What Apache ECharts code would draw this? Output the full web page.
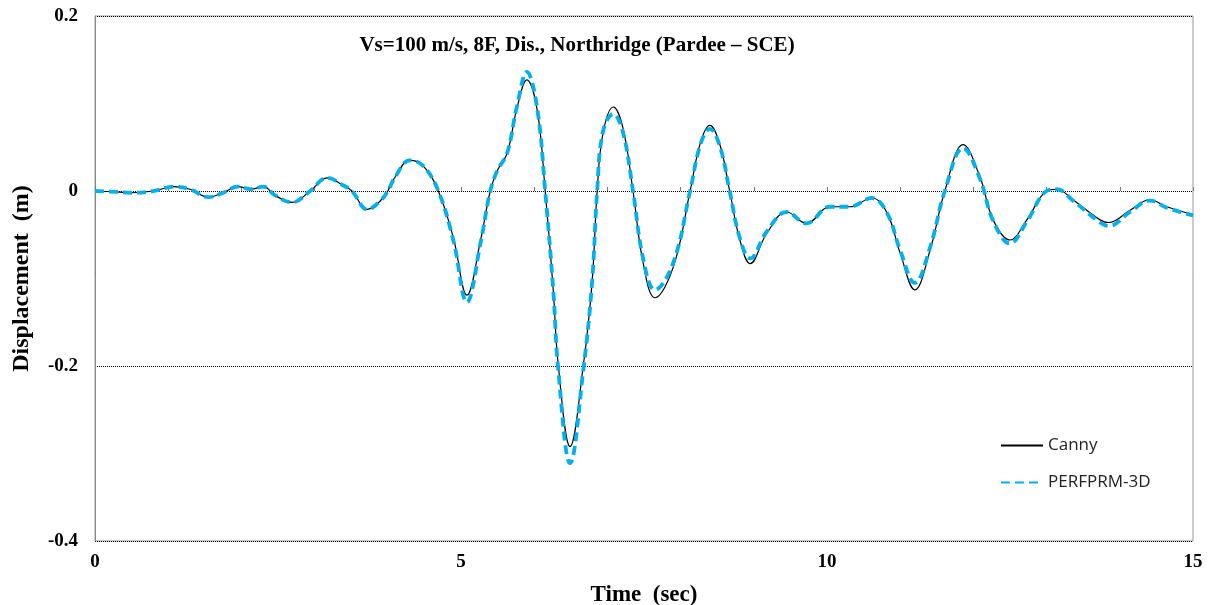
<!DOCTYPE html>
<html>
<head>
<meta charset="utf-8">
<script src="https://cdn.jsdelivr.net/npm/echarts@6/dist/echarts.min.js"></script>
<style>html,body{margin:0;padding:0;background:#fff;overflow:hidden}#c{width:1211px;height:605px}</style>
</head>
<body>
<div id="c"></div>
<script>
const titleText = 'Vs=100 m/s, 8F, Dis., Northridge (Pardee \u2013 SCE)';
const seriesNames = ['Canny', 'PERFPRM-3D'];
const time = [0, 0.3, 0.5, 0.8, 1.08, 1.3, 1.55, 1.75, 1.95, 2.13, 2.3, 2.46, 2.69, 2.94, 3.17, 3.4, 3.51, 3.72, 3.89, 4.0, 4.1, 4.3, 4.48, 4.69, 4.9, 5.08, 5.27, 5.4, 5.5, 5.63, 5.76, 5.9, 6.04, 6.15, 6.26, 6.33, 6.49, 6.67, 6.79, 6.86, 6.94, 7.08, 7.21, 7.35, 7.49, 7.65, 7.9, 8.13, 8.27, 8.4, 8.54, 8.67, 8.81, 8.95, 9.18, 9.45, 9.72, 10.04, 10.31, 10.61, 10.82, 11.0, 11.2, 11.41, 11.61, 11.86, 12.09, 12.27, 12.5, 12.73, 13.0, 13.14, 13.36, 13.73, 13.85, 14.14, 14.41, 14.64, 15.0];
const canny = [0, -0.001, -0.002, 0.0, 0.005, 0.002, -0.007, -0.002, 0.005, 0.002, 0.005, -0.005, -0.013, 0, 0.015, 0.006, 0, -0.021, -0.012, 0, 0.016, 0.035, 0.029, 0, -0.055, -0.119, -0.055, 0, 0.024, 0.043, 0.093, 0.127, 0.093, 0, -0.113, -0.2, -0.292, -0.2, -0.105, 0, 0.066, 0.096, 0.073, 0, -0.083, -0.122, -0.087, 0, 0.055, 0.075, 0.052, 0, -0.056, -0.083, -0.048, -0.024, -0.037, -0.018, -0.018, -0.008, -0.025, -0.071, -0.113, -0.067, 0, 0.053, 0.016, -0.033, -0.056, -0.033, 0, 0.002, -0.01, -0.033, -0.036, -0.022, -0.01, -0.018, -0.027];
const perform = [0, -0.001, -0.002, 0.0, 0.005, 0.002, -0.007, -0.002, 0.005, 0.002, 0.005, -0.005, -0.013, 0, 0.015, 0.006, 0, -0.021, -0.012, 0, 0.016, 0.035, 0.029, 0, -0.058, -0.127, -0.058, 0, 0.024, 0.043, 0.095, 0.136, 0.095, 0, -0.113, -0.205, -0.311, -0.205, -0.105, 0, 0.068, 0.088, 0.068, 0, -0.078, -0.113, -0.082, 0, 0.053, 0.071, 0.05, 0, -0.054, -0.077, -0.046, -0.024, -0.037, -0.018, -0.018, -0.008, -0.025, -0.068, -0.105, -0.064, 0, 0.049, 0.014, -0.034, -0.06, -0.035, 0, 0.002, -0.011, -0.036, -0.04, -0.024, -0.011, -0.019, -0.028];
const yTicks = [-0.4, -0.2, 0, 0.2];
const xLabelTicks = [0, 5, 10, 15];

const serif = 'Liberation Serif';
const chart = echarts.init(document.getElementById('c'), null, {renderer: 'canvas', width: 1211, height: 605});
chart.setOption({
  animation: false,
  backgroundColor: '#fff',
  title: {
    text: titleText, left: 572, top: 30, textAlign: 'center',
    textStyle: {fontFamily: serif, fontWeight: 'bold', fontSize: 21, color: '#000'}
  },
  legend: {
    orient: 'vertical', left: 995, top: 432, itemWidth: 42, itemHeight: 18, itemGap: 20,
    textStyle: {fontFamily: 'Open Sans', fontSize: 17, color: '#222'},
    itemStyle: {opacity: 0},
    data: seriesNames
  },
  grid: {left: 95, width: 1098, top: 16, height: 525, outerBoundsMode: 'none', containLabel: false,
         show: true, borderColor: '#999', borderWidth: 1},
  xAxis: {
    type: 'value', min: 0, max: 15, interval: 1,
    name: 'Time  (sec)', nameLocation: 'middle', nameGap: 43,
    nameTextStyle: {fontFamily: serif, fontWeight: 'bold', fontSize: 23, color: '#000'},
    axisLine: {show: false},
    axisTick: {show: true, inside: true, length: 4, lineStyle: {color: '#777'}},
    axisLabel: {
      margin: 12, fontFamily: serif, fontWeight: 'bold', fontSize: 19, color: '#000',
      formatter: v => xLabelTicks.indexOf(v) >= 0 ? String(v) : ''
    },
    splitLine: {show: false}
  },
  yAxis: {
    type: 'value', min: -0.4, max: 0.2, interval: 0.2,
    name: 'Displacement  (m)', nameLocation: 'middle', nameGap: 61,
    nameTextStyle: {fontFamily: serif, fontWeight: 'bold', fontSize: 24, color: '#000'},
    axisLine: {show: true, lineStyle: {color: '#888'}},
    axisTick: {show: false},
    axisLabel: {
      margin: 17, fontFamily: serif, fontWeight: 'bold', fontSize: 19, color: '#000',
      formatter: v => {
        const r = Math.round(v * 10) / 10;
        return yTicks.indexOf(r) >= 0 ? String(r) : '';
      }
    },
    splitLine: {show: true, lineStyle: {type: 'dotted', color: '#000', width: 1}}
  },
  series: [
    {
      name: seriesNames[0], type: 'line', smooth: 0.4, symbol: 'none', showSymbol: false,
      data: time.map((t, i) => [t, canny[i]]),
      lineStyle: {color: '#000', width: 1.2},
      itemStyle: {color: '#000'},
      z: 2
    },
    {
      name: seriesNames[1], type: 'line', smooth: 0.4, symbol: 'none', showSymbol: false,
      data: time.map((t, i) => [t, perform[i]]),
      lineStyle: {color: '#00b0f0', width: 3.8, type: [9, 5]},
      itemStyle: {color: '#00b0f0'},
      z: 3
    }
  ]
});
</script>
</body>
</html>
